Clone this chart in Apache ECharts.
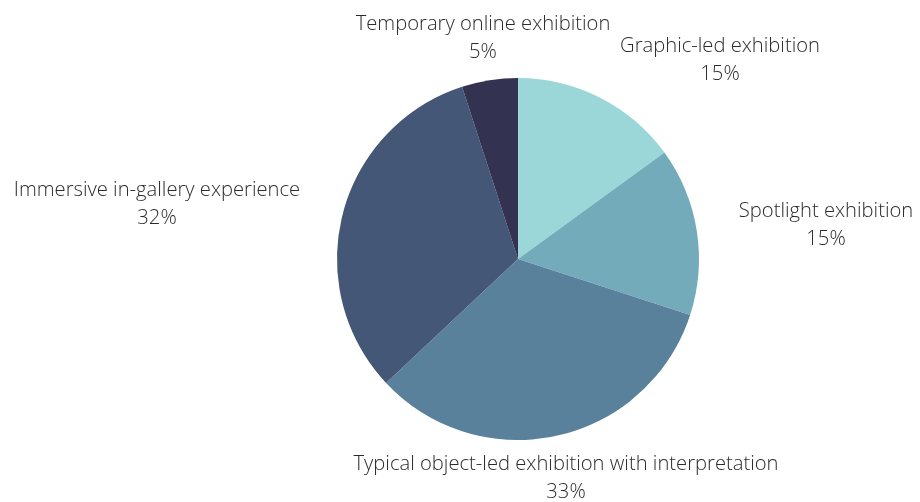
<!DOCTYPE html>
<html>
<head>
<meta charset="utf-8">
<script src="https://cdn.jsdelivr.net/npm/echarts@6/dist/echarts.min.js"></script>
<style>
  html, body { margin: 0; padding: 0; background: #fff; }
  #chart { width: 920px; height: 502px; }
</style>
</head>
<body>
<div id="chart"></div>
<script>
// Exhibition formats and their shares (percent)
const categories = [
  'Graphic-led exhibition',
  'Spotlight exhibition',
  'Typical object-led exhibition with interpretation',
  'Immersive in-gallery experience',
  'Temporary online exhibition'
];
const shares = [15, 15, 33, 32, 5];
const colors = ['#9bd7d9', '#74abbb', '#5a819b', '#445776', '#333250'];

// Label centre offsets from the pie centre, in pixels
const labelOffsets = [
  [202, -199],
  [308, -34],
  [48, 219],
  [-361, -55],
  [-35, -221]
];

const cx = 518, cy = 259;

const chart = echarts.init(document.getElementById('chart'));
chart.setOption({
  animation: false,
  series: [{
    type: 'pie',
    center: [cx, cy],
    radius: 181,
    startAngle: 90,
    clockwise: true,
    data: categories.map((name, i) => ({
      name,
      value: shares[i],
      itemStyle: { color: colors[i] }
    })),
    itemStyle: { borderWidth: 0 },
    label: {
      show: true,
      position: 'outside',
      formatter: p => p.name + '\n' + p.value + '%',
      fontFamily: 'Open Sans',
      fontWeight: 300,
      fontSize: 20.2,
      lineHeight: 28,
      color: '#2b2b2b',
      align: 'center',
      overflow: 'none',
      edgeDistance: 0,
      bleedMargin: 0
    },
    labelLine: { show: false },
    labelLayout: params => {
      const o = labelOffsets[params.dataIndex];
      return {
        x: cx + o[0],
        y: cy + o[1],
        align: 'center',
        verticalAlign: 'middle'
      };
    }
  }]
});
</script>
</body>
</html>
